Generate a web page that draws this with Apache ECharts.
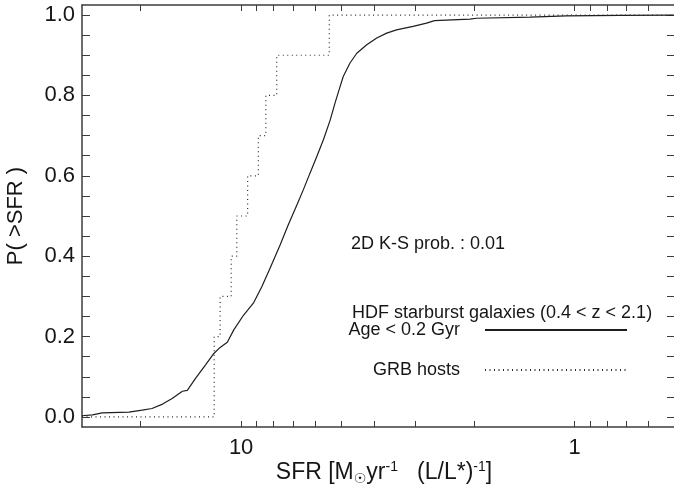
<!DOCTYPE html>
<html><head><meta charset="utf-8">
<script src="https://cdn.jsdelivr.net/npm/echarts@6/dist/echarts.min.js"></script>
<style>html,body{margin:0;padding:0;background:#fff}#c{width:674px;height:485px}</style>
</head><body><div id="c"></div>
<script>
// HDF starburst galaxies (Age < 0.2 Gyr): cumulative P(>SFR)
const hdfSfr = [30, 27.9, 26.1, 21.7, 19.8, 18.5, 17.2, 16.1, 15.0, 14.5, 13.7, 12.8, 12.07, 11.56, 11.0, 10.53, 9.84, 9.19, 8.67, 8.19, 7.64, 7.22, 6.81, 6.51, 6.22, 5.93, 5.67, 5.41, 5.23, 5.05, 4.94, 4.72, 4.50, 4.20, 3.92, 3.66, 3.42, 3.05, 2.78, 2.63, 2.06, 1.97, 1.36, 1.06, 0.73, 0.5];
const hdfP   = [0.003, 0.005, 0.010, 0.012, 0.017, 0.021, 0.032, 0.046, 0.064, 0.066, 0.096, 0.129, 0.158, 0.173, 0.186, 0.216, 0.253, 0.283, 0.324, 0.370, 0.428, 0.478, 0.527, 0.565, 0.606, 0.648, 0.689, 0.738, 0.781, 0.822, 0.847, 0.880, 0.905, 0.926, 0.943, 0.955, 0.963, 0.972, 0.980, 0.986, 0.990, 0.992, 0.995, 0.998, 0.999, 1.0];
// GRB host SFR values (10 hosts)
const grbSfr = [12.04, 12.04, 11.56, 10.71, 10.30, 9.56, 8.88, 8.43, 7.82, 5.44];
// axis ranges and ticks
const xMin = 0.5, xMax = 30;
const xLabelTicks = [10, 1];
const xAllTicks = [20, 10, 9, 8, 7, 6, 5, 4, 3, 2, 1, 0.9, 0.8, 0.7, 0.6];
const yMin = -0.025, yMax = 1.025;
const yLabelTicks = [0, 0.2, 0.4, 0.6, 0.8, 1.0];
const yAllTicks = [0, 0.05, 0.1, 0.15, 0.2, 0.25, 0.3, 0.35, 0.4, 0.45, 0.5, 0.55, 0.6, 0.65, 0.7, 0.75, 0.8, 0.85, 0.9, 0.95, 1.0];
const annoKS = '2D K-S prob. : 0.01';
const annoHDF = 'HDF starburst galaxies (0.4 < z < 2.1)';
const nameHDF = 'Age < 0.2 Gyr';
const nameGRB = 'GRB hosts';
const yTitle = 'P( >SFR )';

const FONT = '"Liberation Sans", Arial, Helvetica, sans-serif';
const TXT = '#161616';
const AX = '#3c3c3c';

const hdfData = hdfSfr.map((s, i) => [s, hdfP[i]]);
const sortedGrb = grbSfr.slice().sort((a, b) => b - a);
const N = sortedGrb.length;
const grbData = [[xMax, 0]];
sortedGrb.forEach((s, i) => { grbData.push([s, i / N]); grbData.push([s, (i + 1) / N]); });
grbData.push([xMin, 1]);

const option = {
  animation: false,
  backgroundColor: '#fff',
  grid: { left: 82, right: -1, top: 5, bottom: 58, outerBoundsMode: 'none' },
  xAxis: [
    { type: 'log', min: xMin, max: xMax, inverse: true, position: 'bottom',
      axisLine: { onZero: false, lineStyle: { color: AX, width: 1.5 } },
      axisTick: { show: true, inside: true, length: 6, customValues: xAllTicks, lineStyle: { color: AX } },
      axisLabel: { show: true, customValues: xLabelTicks, fontSize: 22, fontFamily: FONT, color: TXT, margin: 10, formatter: v => String(v) },
      splitLine: { show: false } },
    { type: 'log', min: xMin, max: xMax, inverse: true, position: 'top',
      axisLine: { onZero: false, lineStyle: { color: AX, width: 1.5 } },
      axisTick: { show: true, inside: true, length: 6, customValues: xAllTicks, lineStyle: { color: AX } },
      axisLabel: { show: false, customValues: xLabelTicks },
      splitLine: { show: false } }
  ],
  yAxis: [
    { type: 'value', min: yMin, max: yMax, position: 'left',
      axisLine: { show: true, onZero: false, lineStyle: { color: AX, width: 1.5 } },
      axisTick: { show: true, inside: true, length: 8, customValues: yAllTicks, lineStyle: { color: AX } },
      axisLabel: { show: true, customValues: yLabelTicks, fontSize: 22, fontFamily: FONT, color: TXT, margin: 7, formatter: v => v.toFixed(1) },
      splitLine: { show: false } },
    { type: 'value', min: yMin, max: yMax, position: 'right',
      axisLine: { show: true, onZero: false, lineStyle: { color: AX, width: 1.5 } },
      axisTick: { show: true, inside: true, length: 8, customValues: yAllTicks, lineStyle: { color: AX } },
      axisLabel: { show: false, customValues: yLabelTicks },
      splitLine: { show: false } }
  ],
  legend: {
    right: 46, top: 321, padding: 0, orient: 'vertical', align: 'right',
    itemWidth: 142, itemHeight: 14, itemGap: 22, selectedMode: false,
    itemStyle: { opacity: 0 },
    textStyle: { fontSize: 18, fontFamily: FONT, color: TXT, padding: [0, 20, 0, 0] },
    data: [nameHDF, nameGRB]
  },
  graphic: [
    { type: 'text', x: 351, y: 244, style: { text: annoKS, font: '18px ' + FONT, fill: TXT, verticalAlign: 'middle', align: 'left' } },
    { type: 'text', x: 352, y: 313, style: { text: annoHDF, font: '18px ' + FONT, fill: TXT, verticalAlign: 'middle', align: 'left' } },
    { type: 'text', x: 16, y: 216, rotation: Math.PI / 2,
      style: { text: yTitle, font: '22px ' + FONT, fill: TXT, align: 'center', verticalAlign: 'middle' } },
    { type: 'text', x: 384, y: 473,
      style: { text: '{a|SFR [M}{s|\u2609}{a|yr}{p|-1}{a|   (L/L*)}{p|-1}{a|]}', align: 'center', verticalAlign: 'middle',
        rich: {
          a: { fontSize: 23, fontFamily: FONT, fill: TXT, lineHeight: 26 },
          s: { fontSize: 14, fontFamily: 'DejaVu Sans', fill: TXT, verticalAlign: 'bottom', lineHeight: 26 },
          p: { fontSize: 14, fontFamily: FONT, fill: TXT, verticalAlign: 'top', lineHeight: 26 }
        } } }
  ],
  series: [
    { name: nameHDF, type: 'line', xAxisIndex: 0, yAxisIndex: 0, data: hdfData, symbol: 'none', showSymbol: false,
      lineStyle: { color: '#1e1e1e', width: 1.2 }, itemStyle: { color: '#1e1e1e' } },
    { name: nameGRB, type: 'line', xAxisIndex: 0, yAxisIndex: 0, data: grbData, symbol: 'none', showSymbol: false,
      lineStyle: { color: '#2a2a2a', width: 1.2, type: [1, 3.5] }, itemStyle: { color: '#2a2a2a' } }
  ]
};
const chart = echarts.init(document.getElementById('c'), null, { renderer: 'canvas' });
chart.setOption(option);
</script></body></html>
